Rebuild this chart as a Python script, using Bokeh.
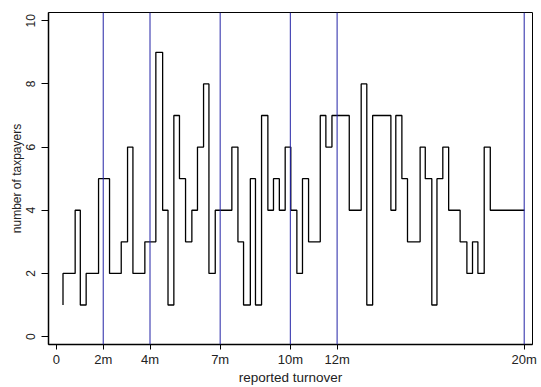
from bokeh.plotting import figure
from bokeh.models import FixedTicker, Span, Range1d
from bokeh.embed import file_html
from bokeh.resources import INLINE

# reported turnover (millions) at the right edge of each step, and number of taxpayers
turnover = [0.28, 0.80, 1.02, 1.27, 1.80, 2.27, 2.77, 3.04, 3.27, 3.78, 4.25, 4.54,
            4.77, 5.02, 5.26, 5.52, 5.79, 6.03, 6.29, 6.52, 6.79, 7.50, 7.76, 8.00,
            8.29, 8.51, 8.77, 9.04, 9.28, 9.53, 9.78, 10.02, 10.28, 10.52, 10.78,
            11.28, 11.52, 11.78, 12.52, 13.03, 13.27, 13.52, 14.30, 14.51, 14.77,
            15.01, 15.55, 15.77, 16.05, 16.27, 16.52, 16.77, 17.26, 17.55, 17.79,
            18.02, 18.29, 18.55, 20.01]
taxpayers = [1, 2, 4, 1, 2, 5, 2, 3, 6, 2, 3, 9,
             4, 1, 7, 5, 3, 4, 6, 8, 2, 4, 6, 3,
             1, 5, 1, 7, 4, 5, 4, 6, 4, 2, 5,
             3, 7, 6, 7, 4, 8, 1, 7, 4, 7,
             5, 3, 6, 5, 1, 5, 6, 4, 3, 2,
             3, 2, 6, 4]

thresholds = [2, 4, 7, 10, 12, 20]
x_ticks = [0, 2, 4, 7, 10, 12, 20]
x_tick_labels = ["0", "2m", "4m", "7m", "10m", "12m", "20m"]
y_ticks = [0, 2, 4, 6, 8, 10]

FONT = "Liberation Sans"

p = figure(width=541, height=387, output_backend="svg", toolbar_location=None,
           x_range=Range1d(-0.34, 20.355), y_range=Range1d(-0.25, 10.26),
           min_border_left=48, min_border_right=9, min_border_top=12, min_border_bottom=43)

p.background_fill_color = "white"
p.border_fill_color = "white"
p.outline_line_color = "black"
p.outline_line_width = 1
p.xgrid.visible = False
p.ygrid.visible = False

for t in thresholds:
    p.add_layout(Span(location=t, dimension="height", line_color="#2323a6", line_width=1))

p.step(turnover, taxpayers, mode="before", line_color="black", line_width=1.3)

xa = p.xaxis[0]
xa.ticker = FixedTicker(ticks=x_ticks)
xa.major_label_overrides = {t: l for t, l in zip(x_ticks, x_tick_labels)}
xa.minor_tick_line_color = None
xa.major_tick_out = 5
xa.major_tick_in = 0
xa.major_label_standoff = 2
xa.axis_label = "reported turnover"
xa.axis_label_standoff = 0
xa.axis_label_text_font = FONT
xa.axis_label_text_font_style = "normal"
xa.axis_label_text_font_size = "13.5px"
xa.axis_label_text_color = "#222222"
xa.major_label_text_font = FONT
xa.major_label_text_font_size = "13px"
xa.major_label_text_color = "#222222"
xa.axis_line_width = 1.5
xa.axis_line_color = "black"

ya = p.yaxis[0]
ya.ticker = FixedTicker(ticks=y_ticks)
ya.minor_tick_line_color = None
ya.major_tick_out = 7
ya.major_tick_in = 0
ya.major_label_standoff = 6
ya.major_label_orientation = "vertical"
ya.axis_label = "number of taxpayers"
ya.axis_label_standoff = 0
ya.axis_label_text_font = FONT
ya.axis_label_text_font_style = "normal"
ya.axis_label_text_font_size = "12px"
ya.axis_label_text_color = "#222222"
ya.major_label_text_font = FONT
ya.major_label_text_font_size = "12px"
ya.major_label_text_color = "#222222"
ya.axis_line_width = 1.5
ya.axis_line_color = "black"

open("out.html", "w").write(file_html(p, INLINE))
